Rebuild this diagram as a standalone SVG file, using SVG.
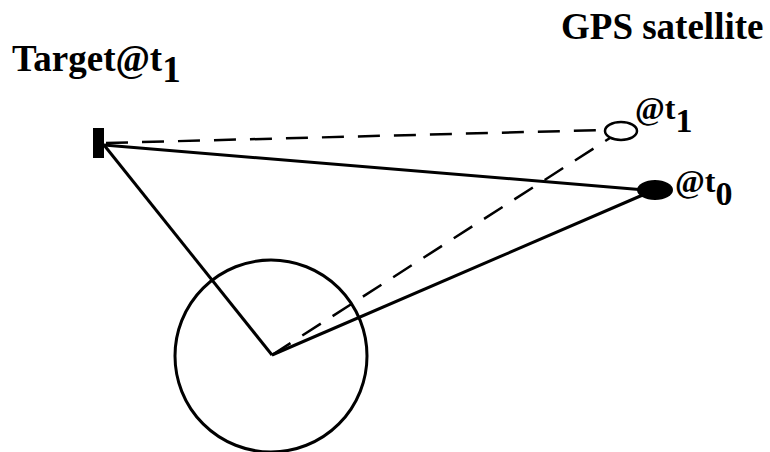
<svg xmlns="http://www.w3.org/2000/svg" width="770" height="452" viewBox="0 0 770 452">
<style>
.t{font-family:"Liberation Serif","Times New Roman",serif;font-weight:bold;fill:#000}
.s{stroke:#000;stroke-width:3;fill:none}
.d{stroke:#000;stroke-width:2.5;fill:none;stroke-dasharray:22 14}
</style>
<rect width="770" height="452" fill="#fff"/>
<g id="connectors">
<line class="s" x1="104" y1="145" x2="645" y2="190"/>
<line class="s" x1="104" y1="145" x2="272" y2="355"/>
<line class="s" x1="272" y1="355" x2="645" y2="194"/>
<line class="d" x1="106" y1="143" x2="605" y2="130"/>
<line class="d" x1="272" y1="355" x2="610" y2="138"/>
</g>
<g id="earth">
<circle cx="271" cy="356" r="96" stroke="#000" stroke-width="3" fill="none"/>
</g>
<g id="target">
<rect x="93" y="128" width="11" height="30" fill="#000"/>
<text class="t" x="12" y="71" font-size="37">Target@t<tspan font-size="37" dy="11">1</tspan></text>
</g>
<g id="sat-t1">
<ellipse cx="621" cy="131" rx="16" ry="9" stroke="#000" stroke-width="2.5" fill="#fff"/>
<text class="t" x="635" y="119" font-size="32">@t<tspan font-size="34" dy="13">1</tspan></text>
</g>
<g id="sat-t0">
<ellipse cx="655" cy="190" rx="18" ry="10" fill="#000"/>
<text class="t" x="675" y="192" font-size="32">@t<tspan font-size="34" dy="13">0</tspan></text>
</g>
<g id="gps">
<text class="t" x="561" y="39" font-size="37">GPS satellite</text>
</g>
</svg>
